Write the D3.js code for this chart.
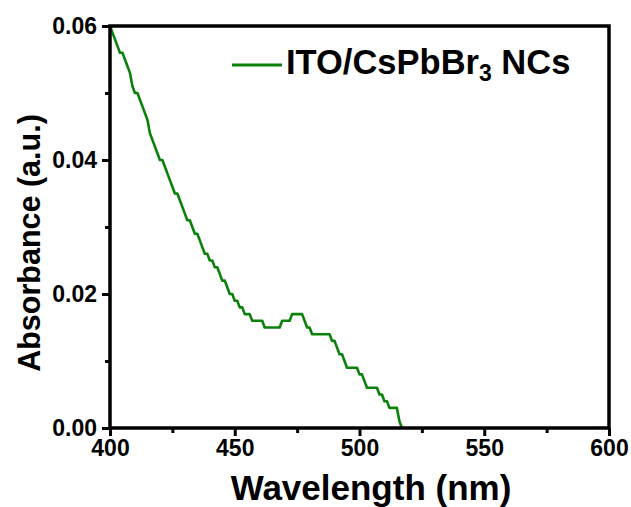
<!DOCTYPE html>
<html>
<head>
<meta charset="utf-8">
<script src="https://cdn.jsdelivr.net/npm/d3@7"></script>
<style>
  body { margin: 0; background: #fff; }
  text { font-family: "Liberation Sans", Arial, sans-serif; font-weight: bold; fill: #000; }
</style>
</head>
<body>
<div id="chart"></div>
<script>
// wavelength (nm) and absorbance, 1 nm steps
const wavelength = [
  400,401,402,403,404,405,406,407,408,409,410,411,412,413,414,415,416,417,418,419,
  420,421,422,423,424,425,426,427,428,429,430,431,432,433,434,435,436,437,438,439,
  440,441,442,443,444,445,446,447,448,449,450,451,452,453,454,455,456,457,458,459,
  460,461,462,463,464,465,466,467,468,469,470,471,472,473,474,475,476,477,478,479,
  480,481,482,483,484,485,486,487,488,489,490,491,492,493,494,495,496,497,498,499,
  500,501,502,503,504,505,506,507,508,509,510,511,512,513,514,515,516,517,518,
  540,560,580,592,593,600
];
const absorbance = [
  0.060,0.059,0.058,0.057,0.056,0.056,0.055,0.054,0.053,0.051,0.050,0.050,0.049,0.048,0.047,0.046,0.044,0.043,0.042,0.041,
  0.040,0.040,0.039,0.038,0.037,0.036,0.035,0.035,0.034,0.033,0.032,0.031,0.031,0.030,0.029,0.029,0.028,0.027,0.026,0.026,
  0.025,0.025,0.024,0.024,0.023,0.022,0.022,0.021,0.020,0.020,0.019,0.019,0.018,0.018,0.017,0.017,0.017,0.016,0.016,0.016,
  0.016,0.016,0.015,0.015,0.015,0.015,0.015,0.015,0.015,0.016,0.016,0.016,0.016,0.017,0.017,0.017,0.017,0.017,0.016,0.015,
  0.015,0.014,0.014,0.014,0.014,0.014,0.014,0.014,0.014,0.013,0.013,0.012,0.011,0.011,0.010,0.009,0.009,0.009,0.009,0.009,
  0.008,0.008,0.007,0.006,0.006,0.006,0.006,0.006,0.005,0.005,0.004,0.004,0.003,0.003,0.003,0.003,0.001,0.000,-0.001,
  -0.001,-0.001,-0.001,-0.001,0.000,0.000
];
const xTicks = [400, 450, 500, 550, 600];
const yTicks = [0.00, 0.02, 0.04, 0.06];
const xMinor = [425, 475, 525, 575];
const yMinor = [0.01, 0.03, 0.05];
const seriesName = "ITO/CsPbBr";

const W = 631, H = 507;
const mLeft = 110, mRight = 609, mTop = 26, mBottom = 428;

const svg = d3.select("#chart").append("svg")
  .attr("width", W).attr("height", H);

const x = d3.scaleLinear().domain([400, 600]).range([mLeft, mRight]);
const y = d3.scaleLinear().domain([0, 0.06]).range([mBottom, mTop]);

svg.append("clipPath").attr("id", "clip")
  .append("rect").attr("x", mLeft).attr("y", mTop)
  .attr("width", mRight - mLeft).attr("height", mBottom - mTop);

const pts = wavelength.map((w, i) => [w, absorbance[i]]);
svg.append("path")
  .datum(pts)
  .attr("clip-path", "url(#clip)")
  .attr("fill", "none")
  .attr("stroke", "#0a820a")
  .attr("stroke-width", 2.6)
  .attr("stroke-linejoin", "round")
  .attr("d", d3.line().x(d => x(d[0])).y(d => y(d[1])));

// axes
svg.append("g").attr("transform", "translate(0," + mBottom + ")")
  .call(d3.axisBottom(x).tickValues(xTicks).tickFormat(d3.format("d")).tickSize(8).tickPadding(4));
svg.append("g").attr("transform", "translate(" + mLeft + ",0)")
  .call(d3.axisLeft(y).tickValues(yTicks).tickFormat(d3.format(".2f")).tickSize(8).tickPadding(5));
svg.append("g").attr("transform", "translate(0," + mBottom + ")")
  .call(d3.axisBottom(x).tickValues(xMinor).tickFormat("").tickSize(5));
svg.append("g").attr("transform", "translate(" + mLeft + ",0)")
  .call(d3.axisLeft(y).tickValues(yMinor).tickFormat("").tickSize(5));

svg.selectAll(".domain").remove();
svg.selectAll(".tick line").style("stroke", "#000").style("stroke-width", "3px");
svg.selectAll(".tick text").attr("font-size", 23).style("fill", "#000")
  .attr("font-family", "Liberation Sans, Arial, sans-serif").attr("font-weight", "bold");

// frame
svg.append("rect")
  .attr("x", mLeft).attr("y", mTop)
  .attr("width", mRight - mLeft).attr("height", mBottom - mTop)
  .style("fill", "none").style("stroke", "#000").style("stroke-width", "3.5px");

// titles
svg.append("text")
  .attr("x", 371).attr("y", 500)
  .attr("text-anchor", "middle").attr("font-size", 35)
  .text("Wavelength (nm)");
svg.append("text")
  .attr("transform", "translate(40," + 243 + ") rotate(-90)")
  .attr("text-anchor", "middle").attr("font-size", 30.5)
  .text("Absorbance (a.u.)");

// legend
svg.append("line")
  .attr("x1", 232).attr("x2", 282).attr("y1", 65).attr("y2", 65)
  .style("stroke", "#0a820a").style("stroke-width", "2.8px");
const lg = svg.append("text").attr("x", 286).attr("y", 74).attr("font-size", 34.5);
lg.append("tspan").text(seriesName);
lg.append("tspan").attr("font-size", 23).attr("dy", 7).text("3");
lg.append("tspan").attr("dy", -7).text(" NCs");
</script>
</body>
</html>
